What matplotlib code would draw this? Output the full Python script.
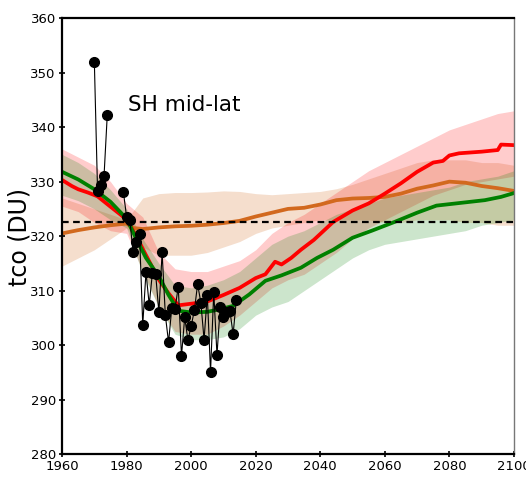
"""SH mid-latitude total column ozone: observations vs. model scenarios."""

import numpy as np
import matplotlib
matplotlib.use("Agg")
import matplotlib.pyplot as plt

# observations (black dots), gap 1975-1978
obs_years = [1970, 1971, 1972, 1973, 1974, 1975,
             1979, 1980, 1981, 1982, 1983, 1984, 1985, 1986, 1987, 1988, 1989,
             1990, 1991, 1992, 1993, 1994, 1995, 1996, 1997, 1998, 1999,
             2000, 2001, 2002, 2003, 2004, 2005, 2006, 2007, 2008, 2009,
             2010, 2011, 2012, 2013, 2014]
obs_tco = [352.0, 328.2, 329.4, 331.0, 342.2, np.nan,
           328.1, 323.5, 323.0, 317.0, 319.0, 320.4, 303.7, 313.4, 307.4, 313.3, 313.0,
           306.0, 317.0, 305.5, 300.5, 306.9, 306.7, 310.7, 298.0, 305.1, 300.9,
           303.5, 306.4, 311.2, 307.8, 301.0, 309.2, 295.1, 309.7, 298.2, 307.0,
           305.1, 306.0, 306.3, 302.0, 308.3]

red_years = [1960, 1963, 1965, 1968, 1971, 1975, 1978, 1980, 1983, 1986, 1990, 1993,
             1996, 2000, 2005, 2010, 2015, 2020, 2023, 2026, 2028, 2031, 2034, 2038,
             2044, 2050, 2055, 2060, 2065, 2070, 2075, 2078, 2080, 2083, 2090, 2095,
             2096, 2100]
red_tco = [330.3, 329.2, 328.6, 328.0, 327.3, 325.4, 324.0, 323.0, 320.0, 316.5, 312.0, 309.5,
           307.3, 307.6, 308.0, 309.2, 310.5, 312.3, 313.0, 315.3, 314.8, 316.0, 317.5, 319.3,
           322.6, 324.7, 326.0, 327.8, 329.7, 331.8, 333.5, 333.8, 334.8, 335.2, 335.5, 335.8,
           336.8, 336.7]

green_years = [1960, 1965, 1970, 1975, 1980, 1983, 1986, 1990, 1993, 1996, 2000, 2005,
               2009, 2013, 2018, 2023, 2028, 2034, 2039, 2044, 2050, 2056, 2063, 2070,
               2076, 2082, 2091, 2096, 2100]
green_tco = [331.8, 330.4, 328.6, 326.3, 323.2, 319.5, 316.0, 312.6, 309.2, 306.3, 306.0, 306.1,
             306.6, 307.2, 309.3, 311.8, 312.8, 314.2, 316.0, 317.5, 319.7, 321.0, 322.6, 324.3,
             325.6, 326.0, 326.6, 327.2, 327.9]

orange_years = [1960, 1965, 1970, 1975, 1980, 1982, 1985, 1990, 1995, 2000, 2005, 2010,
                2015, 2020, 2025, 2030, 2035, 2040, 2045, 2050, 2055, 2060, 2065, 2070,
                2075, 2080, 2085, 2090, 2095, 2100]
orange_tco = [320.5, 321.1, 321.6, 322.0, 322.3, 321.5, 321.3, 321.6, 321.8, 321.9, 322.1, 322.4,
              322.8, 323.6, 324.3, 325.0, 325.2, 325.8, 326.6, 326.9, 327.0, 327.2, 327.8, 328.7,
              329.3, 330.0, 329.8, 329.2, 328.8, 328.3]

# spread envelopes
band_years = [1960, 1965, 1970, 1975, 1980, 1985, 1990, 1995, 2000, 2005, 2010, 2015, 2020,
              2025, 2030, 2035, 2040, 2045, 2050, 2055, 2060, 2065, 2070, 2075, 2080, 2085,
              2090, 2095, 2100]
red_lo = [325.5, 324.5, 322.5, 321.0, 320.5, 313.5, 307.0, 302.5, 302.0, 302.0, 303.5, 305.5, 308.0,
          310.5, 312.0, 313.0, 315.0, 317.0, 319.5, 321.5, 323.0, 324.5, 326.0, 327.5, 328.5, 329.5,
          330.0, 330.5, 331.0]
red_hi = [336.0, 334.5, 333.0, 330.0, 326.0, 323.5, 317.0, 314.0, 313.5, 313.5, 314.5, 315.5, 317.5,
          320.5, 322.5, 324.0, 326.0, 328.0, 330.0, 332.0, 333.5, 335.0, 336.5, 338.0, 339.5, 340.5,
          341.5, 342.5, 343.0]
green_lo = [327.5, 326.5, 325.0, 323.0, 321.5, 313.0, 307.0, 302.0, 301.0, 301.0, 301.5, 303.0, 305.5,
            307.0, 308.0, 310.0, 312.0, 314.0, 316.0, 317.5, 318.5, 319.0, 319.5, 320.0, 320.5, 321.0,
            322.0, 322.5, 323.0]
green_hi = [335.0, 333.5, 331.5, 328.5, 325.0, 319.5, 315.0, 311.0, 310.5, 311.0, 312.0, 313.5, 316.0,
            318.5, 320.0, 321.0, 322.5, 324.0, 325.0, 326.0, 327.0, 327.5, 328.0, 328.5, 329.0, 330.0,
            330.5, 331.0, 332.0]
orange_lo = [314.5, 316.0, 317.5, 319.5, 321.5, 318.0, 316.5, 316.5, 316.5, 317.0, 318.0, 319.0, 320.5,
             321.5, 322.0, 322.5, 323.0, 323.0, 323.0, 323.0, 322.5, 322.5, 323.0, 323.0, 323.0, 322.5,
             322.5, 322.0, 322.0]
orange_hi = [327.0, 326.0, 325.0, 324.0, 323.0, 327.0, 327.8, 328.0, 328.0, 328.1, 328.3, 328.2, 327.8,
             327.6, 327.8, 328.0, 328.2, 328.7, 329.5, 330.5, 331.5, 332.5, 333.5, 334.0, 334.0, 334.0,
             333.5, 333.5, 333.0]

ref_level = 322.6
xticks = [1960, 1980, 2000, 2020, 2040, 2060, 2080, 2100]
yticks = [280, 290, 300, 310, 320, 330, 340, 350, 360]

RED, GREEN, ORANGE = "#ff0000", "#008000", "#d2691e"

fig = plt.figure(figsize=(5.26, 4.78), dpi=100)
ax = fig.add_axes([0.118, 0.050, 0.859, 0.912])

ax.fill_between(band_years, orange_lo, orange_hi, color=ORANGE, alpha=0.22, lw=0)
ax.fill_between(band_years, red_lo, red_hi, color=RED, alpha=0.2, lw=0)
ax.fill_between(band_years, green_lo, green_hi, color=GREEN, alpha=0.2, lw=0)

ax.plot(orange_years, orange_tco, color=ORANGE, lw=2.7)
ax.plot(red_years, red_tco, color=RED, lw=2.7)
ax.plot(green_years, green_tco, color=GREEN, lw=2.7)
ax.axhline(ref_level, color="black", lw=1.6, ls=(0, (3, 2)))
ax.plot(obs_years, obs_tco, color="black", lw=0.8, marker="o", ms=7, zorder=5)

ax.text(1980.3, 344, "SH mid-lat", fontsize=15.5, va="center")
fig.text(0.038, 0.504, "tco (DU)", rotation=90, fontsize=17, ha="center", va="center")

ax.set_xlim(1960, 2100); ax.set_ylim(280, 360)
ax.set_xticks(xticks); ax.set_yticks(yticks)
ax.tick_params(direction="inout", length=5, width=1.2, labelsize=9.5, pad=2)
for side in ["left", "bottom", "top"]:
    ax.spines[side].set_linewidth(1.6)
ax.spines["right"].set_color("#777777"); ax.spines["right"].set_linewidth(1.0)

fig.savefig("out.png", dpi=100)
